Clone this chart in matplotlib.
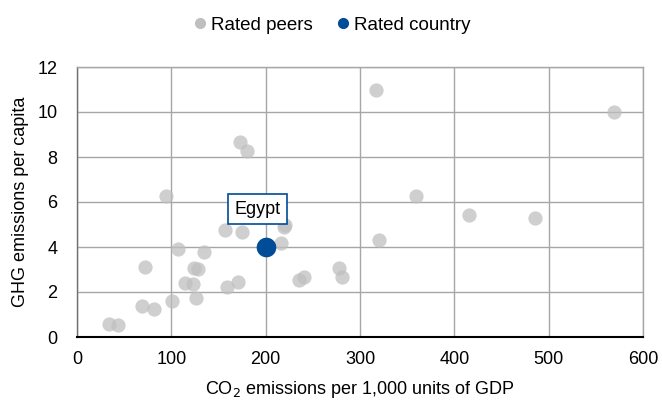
import matplotlib
matplotlib.use('Agg')
from matplotlib import pyplot as plt
from matplotlib.lines import Line2D

plt.rcParams['font.family'] = ['Liberation Sans', 'DejaVu Sans']

# CO2 per 1,000 units of GDP vs GHG per capita
peer_co2 = [173, 180, 94, 157, 175, 221, 219, 216, 107, 135, 72, 124, 128,
            114, 123, 171, 159, 235, 241, 278, 281, 69, 82, 101, 126, 34, 43,
            317, 569, 359, 416, 486, 320]
peer_ghg = [8.65, 8.25, 6.25, 4.75, 4.65, 5.0, 4.9, 4.18, 3.92, 3.78, 3.1,
            3.05, 3.02, 2.42, 2.35, 2.43, 2.22, 2.55, 2.67, 3.05, 2.68, 1.4,
            1.25, 1.6, 1.72, 0.57, 0.53, 11.0, 9.98, 6.25, 5.43, 5.3, 4.33]
egypt_co2 = 200
egypt_ghg = 4.02

peer_color = '#bfbfbf'
country_color = '#004c97'

fig = plt.figure(figsize=(6.62, 4.0), dpi=100)
ax = fig.add_axes([0.1163, 0.1575, 0.855, 0.675])

ax.scatter(peer_co2, peer_ghg, s=105, color=peer_color, alpha=0.75,
           linewidths=0, zorder=3)
ax.scatter([egypt_co2], [egypt_ghg], s=200, color=country_color,
           linewidths=0, zorder=4)

ax.annotate('Egypt', xy=(egypt_co2, egypt_ghg), xytext=(191.5, 5.68),
            ha='center', va='center', fontsize=13, zorder=5,
            bbox=dict(boxstyle='square,pad=0.35', fc='white',
                      ec=country_color, lw=1.2))

ax.set_xlim(0, 600)
ax.set_ylim(0, 12)
ax.set_xticks(range(0, 601, 100))
ax.set_yticks(range(0, 13, 2))
ax.grid(True, color='#a6a6a6', lw=1.0, zorder=0)
ax.set_axisbelow(True)
for side in ['top', 'right']:
    ax.spines[side].set_color('#a6a6a6')
    ax.spines[side].set_linewidth(1.0)
ax.spines['left'].set_color('#707070')
ax.spines['left'].set_linewidth(1.0)
ax.spines['bottom'].set_color('black')
ax.spines['bottom'].set_linewidth(1.5)
ax.tick_params(length=0, labelsize=13, colors='black')
ax.tick_params(axis='x', pad=10)
ax.tick_params(axis='y', pad=14)

ax.set_xlabel('CO$_2$ emissions per 1,000 units of GDP', fontsize=13,
              labelpad=8)
ax.set_ylabel('GHG emissions per capita', fontsize=13, labelpad=6)

handles = [
    Line2D([], [], ls='', marker='o', ms=7, color=peer_color,
           label='Rated peers'),
    Line2D([], [], ls='', marker='o', ms=7, color=country_color,
           label='Rated country'),
]
fig.legend(handles=handles, loc='upper center', bbox_to_anchor=(0.498, 1.0),
           ncol=2, frameon=False, fontsize=13.5, handletextpad=0.0,
           handlelength=1.2, columnspacing=1.0)

plt.savefig('out.png', dpi=100)
